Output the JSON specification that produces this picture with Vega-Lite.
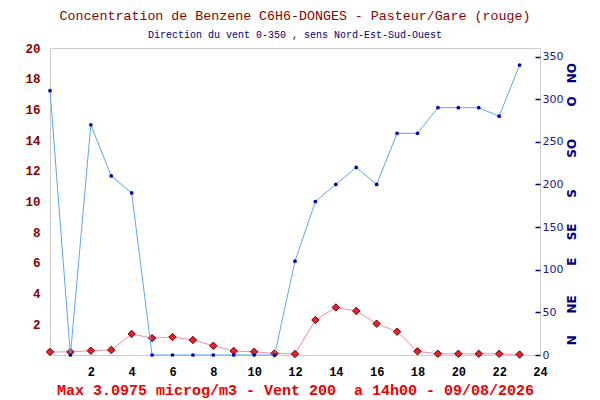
{
  "$schema": "https://vega.github.io/schema/vega-lite/v6.json",
  "width": 490,
  "height": 307,
  "autosize": {"type": "none"},
  "padding": {"left": 50, "top": 48, "right": 60, "bottom": 45},
  "background": "white",
  "config": {
    "font": "Liberation Mono",
    "view": {"stroke": "#cccccc", "strokeWidth": 1}
  },
  "title": {
    "text": "Concentration de Benzene C6H6-DONGES - Pasteur/Gare (rouge)",
    "subtitle": "Direction du vent 0-350 , sens Nord-Est-Sud-Ouest",
    "anchor": "middle",
    "font": "Liberation Mono",
    "fontSize": 13.3,
    "fontWeight": "normal",
    "color": "#8b0000",
    "subtitleFont": "Liberation Mono",
    "subtitleFontSize": 10,
    "subtitleColor": "#000080",
    "subtitlePadding": 8,
    "offset": 2
  },
  "datasets": {
    "mesures": [
      {"heure": 0, "benzene": 0.2, "vent": 310},
      {"heure": 1, "benzene": 0.2, "vent": 0},
      {"heure": 2, "benzene": 0.28, "vent": 270},
      {"heure": 3, "benzene": 0.33, "vent": 210},
      {"heure": 4, "benzene": 1.37, "vent": 190},
      {"heure": 5, "benzene": 1.1, "vent": 0},
      {"heure": 6, "benzene": 1.17, "vent": 0},
      {"heure": 7, "benzene": 0.98, "vent": 0},
      {"heure": 8, "benzene": 0.6, "vent": 0},
      {"heure": 9, "benzene": 0.26, "vent": 0},
      {"heure": 10, "benzene": 0.21, "vent": 0},
      {"heure": 11, "benzene": 0.1, "vent": 0},
      {"heure": 12, "benzene": 0.07, "vent": 110},
      {"heure": 13, "benzene": 2.28, "vent": 180},
      {"heure": 14, "benzene": 3.0975, "vent": 200},
      {"heure": 15, "benzene": 2.87, "vent": 220},
      {"heure": 16, "benzene": 2.04, "vent": 200},
      {"heure": 17, "benzene": 1.52, "vent": 260},
      {"heure": 18, "benzene": 0.24, "vent": 260},
      {"heure": 19, "benzene": 0.08, "vent": 290},
      {"heure": 20, "benzene": 0.08, "vent": 290},
      {"heure": 21, "benzene": 0.08, "vent": 290},
      {"heure": 22, "benzene": 0.08, "vent": 280},
      {"heure": 23, "benzene": 0.03, "vent": 340}
    ],
    "bandes": [
      {"bas": 18, "haut": 20},
      {"bas": 14, "haut": 16},
      {"bas": 10, "haut": 12},
      {"bas": 6, "haut": 8},
      {"bas": 2, "haut": 4}
    ]
  },
  "encoding": {
    "x": {
      "field": "heure",
      "type": "quantitative",
      "scale": {"domain": [0, 24], "nice": false, "zero": false},
      "axis": {
        "values": [2, 4, 6, 8, 10, 12, 14, 16, 18, 20, 22, 24],
        "grid": false,
        "ticks": false,
        "domain": false,
        "labelFont": "Liberation Mono",
        "labelFontSize": 12,
        "labelFontWeight": "bold",
        "labelColor": "#000000",
        "labelPadding": 11,
        "labelFlush": false,
        "title": "Max 3.0975 microg/m3 - Vent 200\u00a0 a 14h00 - 09/08/2026",
        "titleFont": "Liberation Mono",
        "titleFontSize": 15,
        "titleFontWeight": "bold",
        "titleColor": "#ee0000",
        "titlePadding": 5
      }
    }
  },
  "layer": [
    {
      "data": {"name": "bandes"},
      "mark": {"type": "rect", "fill": "#f3f3f3", "stroke": "#dddddd", "strokeWidth": 1},
      "encoding": {
        "x": {"datum": 0, "type": "quantitative"},
        "x2": {"datum": 24},
        "y": {"field": "bas", "type": "quantitative", "scale": {"domain": [0, 20], "nice": false}, "axis": null},
        "y2": {"field": "haut"}
      }
    },
    {
      "data": {"name": "mesures"},
      "mark": {"type": "line", "color": "#f08cb4", "strokeWidth": 1},
      "encoding": {
        "y": {
          "field": "benzene",
          "type": "quantitative",
          "scale": {"domain": [0, 20], "nice": false},
          "axis": {
            "orient": "left",
            "values": [2, 4, 6, 8, 10, 12, 14, 16, 18, 20],
            "grid": false,
            "ticks": false,
            "domain": false,
            "labelFont": "Liberation Mono",
            "labelFontSize": 12.5,
            "labelFontWeight": "bold",
            "labelColor": "#8b0000",
            "labelPadding": 10,
            "title": null
          }
        }
      }
    },
    {
      "data": {"name": "mesures"},
      "mark": {"type": "point", "shape": "diamond", "filled": true, "fill": "#e8202a", "stroke": "#700000", "strokeWidth": 1, "size": 55, "opacity": 1},
      "encoding": {
        "y": {"field": "benzene", "type": "quantitative", "scale": {"domain": [0, 20], "nice": false}, "axis": null}
      }
    },
    {
      "data": {"name": "mesures"},
      "mark": {"type": "line", "color": "#5ea6f0", "strokeWidth": 1},
      "encoding": {
        "y": {
          "field": "vent",
          "type": "quantitative",
          "scale": {"domain": [0, 360], "nice": false},
          "axis": {
            "orient": "right",
            "values": [0, 50, 100, 150, 200, 250, 300, 350],
            "grid": false,
            "domain": false,
            "ticks": true,
            "tickSize": -5,
            "tickColor": "#000080",
            "tickWidth": 1.5,
            "labelFont": "DejaVu Sans",
            "labelFontSize": 11,
            "labelColor": "#1a1a8c",
            "labelPadding": 7,
            "title": null
          }
        }
      }
    },
    {
      "data": {"name": "mesures"},
      "mark": {"type": "circle", "color": "#0000b0", "size": 14, "opacity": 1},
      "encoding": {
        "y": {
          "field": "vent",
          "type": "quantitative",
          "scale": {"domain": [0, 360], "nice": false},
          "axis": {
            "orient": "right",
            "offset": 24,
            "values": [18, 60, 110, 145, 190, 243, 298, 331],
            "labelExpr": "['N','NE','E','SE','S','SO','O','NO'][indexof([18,60,110,145,190,243,298,331], datum.value)]",
            "labelAngle": 270,
            "grid": false,
            "domain": false,
            "ticks": false,
            "labelFont": "DejaVu Sans",
            "labelFontSize": 12,
            "labelFontWeight": "bold",
            "labelColor": "#000080",
            "labelPadding": 2,
            "title": null
          }
        }
      }
    }
  ],
  "resolve": {"scale": {"y": "independent"}, "axis": {"y": "independent"}}
}
